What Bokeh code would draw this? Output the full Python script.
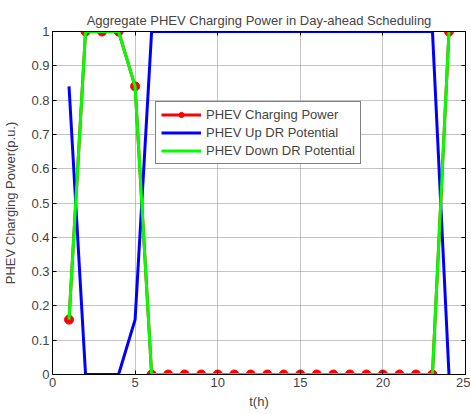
from bokeh.plotting import figure
from bokeh.models import LinearAxis, FixedTicker, Range1d, Legend, LegendItem, CustomJSTickFormatter
from bokeh.embed import file_html
from bokeh.resources import INLINE

hours = list(range(1, 25))
charging = [0.16, 1, 1, 1, 0.84] + [0] * 18 + [1]
up_dr = [0.84, 0, 0, 0, 0.16] + [1] * 18 + [0]
down_dr = [0.16, 1, 1, 1, 0.84] + [0] * 18 + [1]

FONT = "Liberation Sans"

p = figure(width=470, height=412, output_backend="svg", toolbar_location=None,
           x_range=Range1d(0, 25), y_range=Range1d(0, 1),
           min_border_left=50, min_border_right=5, min_border_top=31, min_border_bottom=38)
p.title.text = "Aggregate PHEV Charging Power in Day-ahead Scheduling"
p.title.text_font = FONT
p.title.text_font_size = "13px"
p.title.text_font_style = "normal"
p.title.align = "center"
p.title.offset = 0
p.title.standoff = 8

p.outline_line_color = "black"
p.outline_line_width = 1

xt = FixedTicker(ticks=[0, 5, 10, 15, 20, 25])
yt = FixedTicker(ticks=[round(i * 0.1, 1) for i in range(11)])

for ax in p.xaxis:
    ax.ticker = xt
for ax in p.yaxis:
    ax.ticker = yt

for ax in list(p.xaxis) + list(p.yaxis):
    ax.major_tick_in = 4
    ax.major_tick_out = 0
    ax.minor_tick_in = 0
    ax.minor_tick_out = 0
    ax.major_label_text_font = FONT
    ax.major_label_text_font_size = "13px"
    ax.major_label_standoff = 3
    ax.axis_label_text_font = FONT
    ax.axis_label_text_font_size = "13px"
    ax.axis_label_text_font_style = "normal"
    ax.axis_line_color = "black"

p.xaxis.axis_label = "t(h)"
p.yaxis.axis_label = "PHEV Charging Power(p.u.)"
p.xaxis.axis_label_standoff = 4
p.yaxis.axis_label_standoff = 10

blank = CustomJSTickFormatter(code="return '';")
top = LinearAxis(ticker=xt, formatter=blank, major_tick_in=4, major_tick_out=0,
                 minor_tick_in=0, minor_tick_out=0, major_label_standoff=0)
right = LinearAxis(ticker=yt, formatter=blank, major_tick_in=4, major_tick_out=0,
                   minor_tick_in=0, minor_tick_out=0, major_label_standoff=0)
p.add_layout(top, "above")
p.add_layout(right, "right")

for g in (p.xgrid, p.ygrid):
    g.grid_line_color = "#888888"
    g.grid_line_dash = "1 1"
    g.grid_line_width = 1
p.xgrid.ticker = xt
p.ygrid.ticker = yt

r_line = p.line(hours, charging, line_color="red", line_width=3)
r_pts = p.scatter(hours, charging, marker="circle", size=9, fill_color="red", line_color="red")
b_line = p.line(hours, up_dr, line_color="blue", line_width=3)
g_line = p.line(hours, down_dr, line_color="#00ff00", line_width=3)

legend = Legend(items=[
    LegendItem(label="PHEV Charging Power", renderers=[r_line, r_pts]),
    LegendItem(label="PHEV Up DR Potential", renderers=[b_line]),
    LegendItem(label="PHEV Down DR Potential", renderers=[g_line]),
], location=(103, 210))
legend.label_text_font = FONT
legend.label_text_font_size = "13px"
legend.border_line_color = "black"
legend.border_line_width = 1
legend.glyph_width = 40
legend.glyph_height = 13
legend.label_height = 13
legend.spacing = 3
legend.padding = 5
legend.margin = 0
legend.label_standoff = 5
legend.background_fill_alpha = 1
p.add_layout(legend)

open("out.html", "w").write(file_html(p, INLINE))
